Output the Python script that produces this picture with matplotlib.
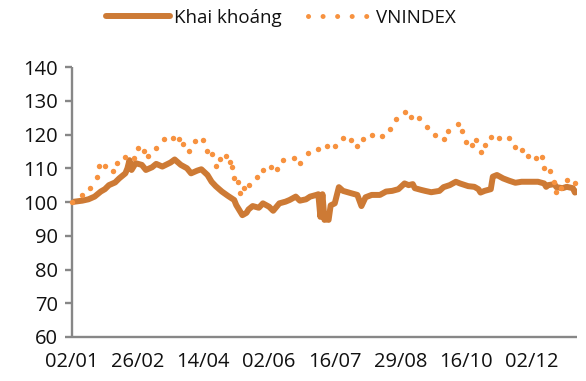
import matplotlib
matplotlib.use("Agg")
import matplotlib.pyplot as plt
from matplotlib.lines import Line2D

plt.rcParams["font.family"] = ["Open Sans", "DejaVu Sans"]

# trading-day index and rebased values (02/01 = 100)
kk_days = [0, 5, 8, 11, 14, 16, 18, 21, 23, 26, 27, 28, 29, 30, 31, 34, 36, 39,
           41, 44, 48, 50, 53, 56, 58, 61, 63, 66, 68, 70, 73, 76, 79, 80, 82,
           83, 85, 86, 88, 91, 93, 96, 98, 101, 104, 106, 109, 111, 114, 116,
           119, 120, 121, 122, 123, 124, 125, 126, 128, 130, 132, 136, 139,
           141, 143, 146, 150, 153, 156, 159, 162, 164, 166, 167, 170, 172,
           175, 179, 181, 184, 187, 189, 193, 196, 198, 199, 201, 204, 205,
           207, 210, 213, 216, 219, 223, 227, 230, 231, 232, 235, 236, 239,
           241, 244, 245, 246]
kk_vals = [100.0, 100.4, 100.8, 101.6, 103.1, 103.8, 105.0, 105.8, 107.0, 108.5,
           110.0, 112.4, 109.5, 110.5, 111.5, 111.0, 109.5, 110.3, 111.3, 110.5,
           111.7, 112.6, 111.0, 110.0, 108.5, 109.3, 109.7, 108.0, 106.0, 104.7,
           103.1, 101.8, 100.6, 99.1, 97.1, 96.1, 96.8, 97.8, 98.8, 98.3, 99.6,
           98.6, 97.4, 99.6, 100.1, 100.6, 101.6, 100.4, 100.8, 101.6, 102.1,
           102.3, 95.6, 102.3, 94.7, 94.9, 94.7, 99.0, 99.6, 104.4, 103.3,
           102.6, 102.1, 98.8, 101.4, 102.1, 102.1, 103.1, 103.3, 103.8, 105.5,
           105.0, 105.3, 104.1, 103.6, 103.3, 102.9, 103.3, 104.4, 105.0, 106.0,
           105.5, 104.7, 104.5, 103.8, 102.8, 103.3, 103.8, 107.5, 108.0, 107.0,
           106.3, 105.7, 106.0, 106.0, 106.0, 105.5, 104.5, 105.0, 105.3, 104.4,
           104.1, 104.5, 104.1, 102.8, 103.1]

vn_days = [0, 5, 9, 12, 13, 16, 20, 22, 26, 30, 32, 35, 37, 41, 45, 49, 52, 54,
           57, 60, 64, 66, 68, 70, 72, 75, 77, 78, 79, 81, 82, 84, 86, 90, 93,
           97, 100, 103, 108, 111, 115, 120, 124, 128, 132, 136, 139, 142, 146,
           151, 155, 158, 162, 165, 169, 173, 177, 181, 183, 188, 190, 192, 195,
           197, 199, 201, 204, 208, 213, 216, 219, 222, 226, 229, 230, 233, 235,
           236, 238, 241, 245]
vn_vals = [100.0, 102.0, 104.2, 107.4, 110.8, 110.6, 109.3, 111.5, 113.3, 112.9,
           116.1, 115.1, 113.6, 116.1, 118.6, 118.9, 118.8, 117.2, 115.2, 118.1,
           118.3, 115.1, 114.1, 110.8, 112.7, 113.5, 111.9, 110.5, 107.0, 106.0,
           102.8, 104.2, 105.1, 107.3, 109.6, 110.3, 109.7, 112.5, 113.1, 111.7,
           114.4, 115.8, 116.6, 116.6, 119.0, 118.5, 116.7, 118.8, 119.9, 119.6,
           121.5, 124.5, 126.8, 125.2, 125.0, 122.3, 120.0, 118.6, 121.1, 123.0,
           121.0, 117.9, 116.8, 118.4, 114.9, 117.0, 119.2, 119.0, 119.0, 116.4,
           115.3, 113.6, 113.1, 113.3, 110.0, 109.3, 106.0, 102.9, 104.2, 106.5,
           105.5]

tick_pos = [0, 32, 64, 96, 128, 160, 192, 224]
tick_labels = ["02/01", "26/02", "14/04", "02/06", "16/07", "29/08", "16/10", "02/12"]
y_ticks = [60, 70, 80, 90, 100, 110, 120, 130, 140]

line_color = "#CD7A35"
dot_color = "#F7923F"
axis_color = "#878787"
text_color = "#111111"

fig = plt.figure(figsize=(5.86, 3.81), dpi=100)
ax = fig.add_axes([0.1229, 0.1155, 0.8617, 0.7086])

ax.plot(kk_days, kk_vals, color=line_color, lw=4.3,
        solid_joinstyle="round", solid_capstyle="round", zorder=2)
ax.plot(vn_days, vn_vals, ls="none", marker="o", ms=3.9, mec="none",
        mfc=dot_color, zorder=3, clip_on=False)

ax.set_xlim(0, 246)
ax.set_ylim(60, 140)
ax.set_yticks(y_ticks)
ax.set_xticks(tick_pos)
ax.set_xticklabels(tick_labels)

for side in ["top", "right"]:
    ax.spines[side].set_visible(False)
for side in ["left", "bottom"]:
    ax.spines[side].set_color(axis_color)
    ax.spines[side].set_linewidth(1.7)
    ax.spines[side].set_capstyle("butt")

ax.tick_params(axis="y", length=5, width=1.7, color=axis_color, pad=5,
               labelsize=14.5, labelcolor=text_color)
ax.tick_params(axis="x", length=0, pad=11, labelsize=14.5, labelcolor=text_color)

handles = [
    Line2D([], [], color=line_color, lw=4.3, solid_capstyle="round"),
    Line2D([], [], color=dot_color, lw=3.6, ls=(0, (0.01, 2.9)),
           dash_capstyle="round"),
]
fig.legend(handles, ["Khai khoáng", "VNINDEX"], loc="center",
           bbox_to_anchor=(0.4795, 0.953), ncol=2, frameon=False,
           fontsize=13.5, handlelength=3.4, columnspacing=1.45,
           handletextpad=0.2, labelcolor=text_color)

fig.savefig("out.png", dpi=100)
